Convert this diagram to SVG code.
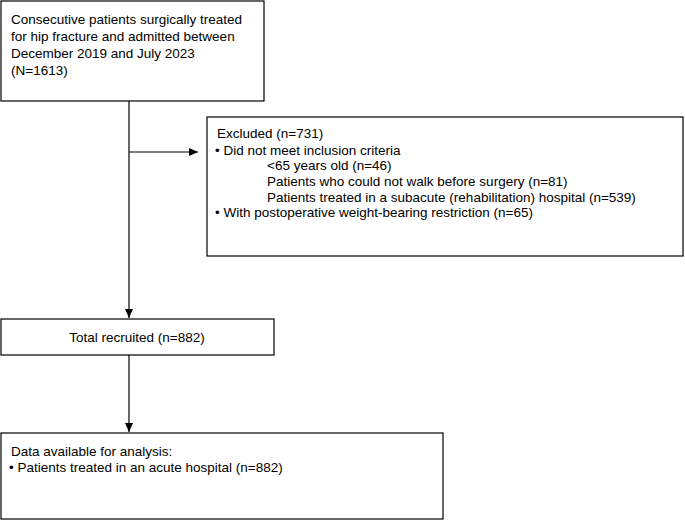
<svg xmlns="http://www.w3.org/2000/svg" width="685" height="520" viewBox="0 0 685 520">
<style>
.b{fill:#fff;stroke:#000;stroke-width:1.2}
text{font-family:"Liberation Sans",Arial,sans-serif;font-size:13.5px;fill:#000}
.c{stroke:#000;stroke-width:1.2;fill:none}
</style>
<defs><marker id="a" markerWidth="10" markerHeight="10" refX="9" refY="5" orient="auto" markerUnits="userSpaceOnUse"><path d="M0,1 L9,5 L0,9 Z" fill="#000"/></marker></defs>
<rect width="685" height="520" fill="#fff"/>
<g id="connectors">
<line class="c" x1="129" y1="101" x2="129" y2="318" marker-end="url(#a)"/>
<line class="c" x1="129" y1="152" x2="198" y2="152" marker-end="url(#a)"/>
<line class="c" x1="129" y1="355" x2="129" y2="432" marker-end="url(#a)"/>
</g>
<g id="n1"><rect class="b" x="1" y="1" width="263" height="100"/>
<text x="11" y="24">Consecutive patients surgically treated</text>
<text x="11" y="41">for hip fracture and admitted between</text>
<text x="11" y="58">December 2019 and July 2023</text>
<text x="11" y="75">(N=1613)</text></g>
<g id="n2"><rect class="b" x="207" y="117" width="476" height="139"/>
<text x="217" y="138">Excluded (n=731)</text>
<text x="215" y="155">• Did not meet inclusion criteria</text>
<text x="267" y="170">&lt;65 years old (n=46)</text>
<text x="267" y="186">Patients who could not walk before surgery (n=81)</text>
<text x="267" y="202">Patients treated in a subacute (rehabilitation) hospital (n=539)</text>
<text x="215" y="217">• With postoperative weight-bearing restriction (n=65)</text></g>
<g id="n3"><rect class="b" x="1" y="319" width="273" height="36"/>
<text x="137" y="342" text-anchor="middle">Total recruited (n=882)</text></g>
<g id="n4"><rect class="b" x="1" y="433" width="442" height="86"/>
<text x="11" y="456">Data available for analysis:</text>
<text x="9" y="472">• Patients treated in an acute hospital (n=882)</text></g>
</svg>
